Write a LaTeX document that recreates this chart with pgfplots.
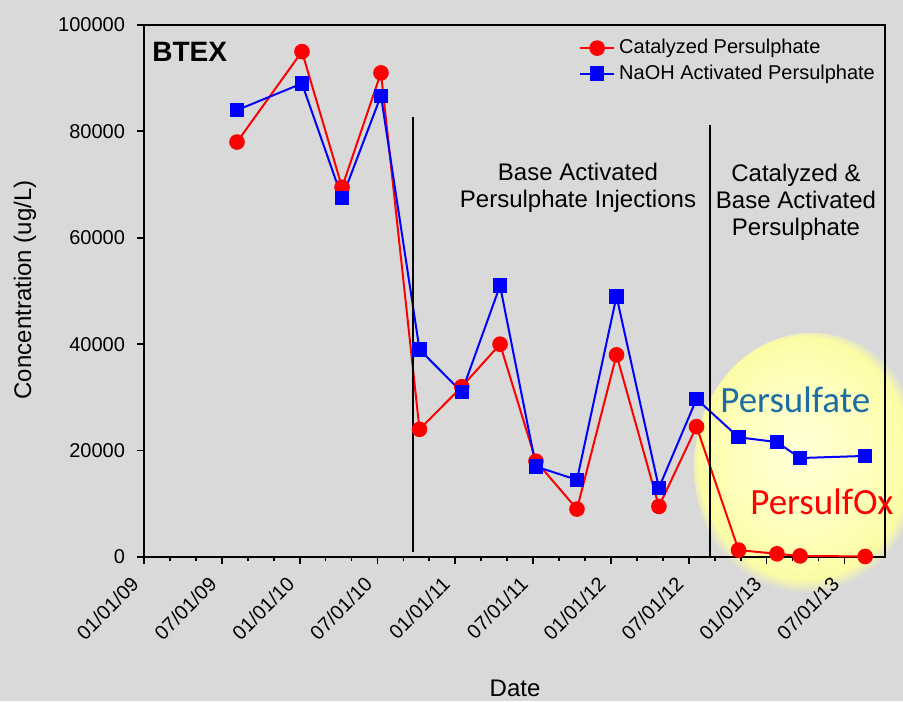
\documentclass[border=0pt]{standalone}
\usepackage{fontspec}
\setmainfont{Liberation Sans}
\newfontfamily\calibri{Carlito}
\usepackage{pgfplots}
\pgfplotsset{compat=1.18}
\definecolor{bg}{RGB}{217,217,217}
\definecolor{glowin}{RGB}{255,255,215}
\definecolor{glowmid}{RGB}{255,255,190}
\definecolor{glowedge}{RGB}{252,252,165}
\definecolor{psblue}{RGB}{28,108,165}
\pgfdeclareradialshading{glow}{\pgfpoint{-3bp}{3bp}}{color(0bp)=(glowin); color(14bp)=(glowmid); color(22.5bp)=(glowedge); color(25bp)=(bg); color(50bp)=(bg)}
\pgfplotstableread{
x y
7.17 78000
12.18 95000
15.27 69500
18.27 91000
21.24 24000
24.5 32000
27.45 40000
30.22 18000
33.38 9000
36.43 38000
39.7 9500
42.6 24500
45.84 1300
48.8 600
50.58 200
55.6 100
}\catdata
\pgfplotstableread{
x y
7.17 84000
12.18 89000
15.27 67500
18.27 86700
21.24 39000
24.5 31000
27.45 51000
30.22 17000
33.38 14500
36.43 49000
39.7 13000
42.6 29700
45.84 22500
48.8 21600
50.58 18600
55.6 19000
}\naohdata
\begin{document}
\begin{tikzpicture}
\fill[bg] (0,0) rectangle (451.5pt,350.5pt);
\begin{scope}
\clip (0,0) rectangle (451.5pt,350.5pt);
\shade[shading=glow] (406pt,117pt) ellipse [x radius=59pt, y radius=67pt];
\end{scope}
\begin{axis}[
  at={(72pt,72pt)}, anchor=south west,
  scale only axis, width=370.5pt, height=266pt,
  xmin=0, xmax=57.13, ymin=0, ymax=100000,
  clip=false,
  axis line style={line width=1pt, black},
  tick align=outside,
  xtick pos=left, ytick pos=left,
  xtick={0,6,...,54},
  xticklabels={01/01/09,07/01/09,01/01/10,07/01/10,01/01/11,07/01/11,01/01/12,07/01/12,01/01/13,07/01/13},
  minor x tick num=2,
  ytick={0,20000,...,100000},
  scaled y ticks=false,
  major tick length=3.5pt, minor tick length=2.2pt,
  every tick/.style={black, line width=0.9pt},
  /pgf/number format/assume math mode=true,
  yticklabel style={/pgf/number format/fixed, /pgf/number format/1000 sep={}, font=\fontsize{10}{12}\selectfont, xshift=-2.5pt},
  xticklabel style={yshift=-6pt, xshift=-2pt, rotate=45, anchor=east, font=\fontsize{10}{12}\selectfont},
  xlabel={Date}, ylabel={Concentration (ug/L)},
  xlabel style={at={(axis description cs:0.5007,-0.246)}, anchor=center, font=\fontsize{12}{14}\selectfont},
  ylabel style={at={(axis description cs:-0.1606,0.502)}, anchor=center, rotate=0, font=\fontsize{12}{14}\selectfont},
  legend style={at={(axis description cs:0.995,0.985)}, anchor=north east, draw=none, fill=none, font=\fontsize{10}{12}\selectfont, inner sep=1pt, row sep=0pt},
  legend cell align=left,
  every axis legend/.append style={/tikz/every even column/.append style={column sep=2pt}},
]
\addplot[red, line width=1pt, mark=*, mark size=3.4pt, mark options={solid, fill=red}] table[x=x,y=y] {\catdata};
\addlegendentry{Catalyzed Persulphate}
\addplot[blue, line width=1pt, mark=square*, mark size=3.1pt, mark options={solid, fill=blue}] table[x=x,y=y] {\naohdata};
\addlegendentry{NaOH Activated Persulphate}
\draw[black, line width=1pt] (axis cs:20.74,1000) -- (axis cs:20.74,82700);
\draw[black, line width=1pt] (axis cs:43.64,0) -- (axis cs:43.64,81200);
\node[anchor=west, font=\bfseries\fontsize{14}{16}\selectfont] at (axis cs:0.1,94900) {BTEX};
\node[align=center, font=\fontsize{12}{13.5}\selectfont] at (axis cs:33.46,69370) {Base Activated\\Persulphate Injections};
\node[align=center, font=\fontsize{12}{13.5}\selectfont] at (axis cs:50.27,66740) {Catalyzed \&\\Base Activated\\Persulphate};
\node[anchor=base west, inner sep=0pt, text=psblue, font=\calibri\fontsize{18.5}{20}\selectfont] at (axis cs:44.41,27070) {Persulfate};
\node[anchor=base west, inner sep=0pt, text=red, font=\calibri\fontsize{18.5}{20}\selectfont] at (axis cs:46.72,7900) {PersulfOx};
\end{axis}
\pgfresetboundingbox
\useasboundingbox (0,0) rectangle (451.5pt,350.5pt);
\end{tikzpicture}
\end{document}
